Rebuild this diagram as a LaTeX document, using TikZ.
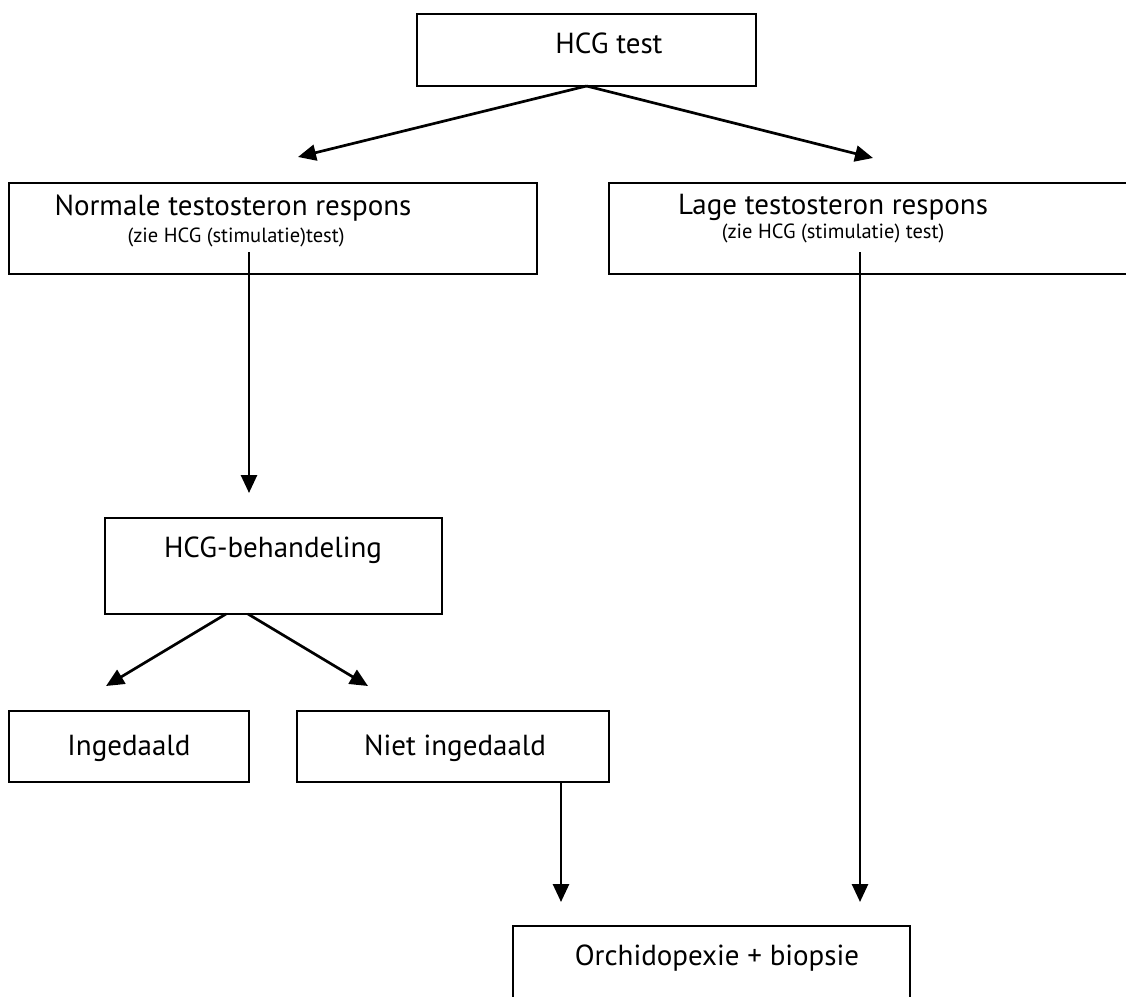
\documentclass[tikz,border=0pt]{standalone}
\usepackage{fontspec}
\setmainfont{PT Sans}
\usetikzlibrary{arrows.meta}
\begin{document}
\begin{tikzpicture}[x=1pt,y=-1pt,
  boxnode/.style={draw, line width=2pt, inner sep=0pt, outer sep=0pt, anchor=north west},
  txt/.style={inner sep=0pt, anchor=base, font=\fontsize{29}{33}\selectfont},
  subtxt/.style={inner sep=0pt, anchor=base, font=\fontsize{20.5}{24}\selectfont},
  arr/.style={line width=2.7pt, -{Triangle[length=18pt,width=16pt]}}]
\useasboundingbox (0,0) rectangle (1126,996);
\clip (0,0) rectangle (1126,996);
% boxes
\node[boxnode, minimum width=339pt, minimum height=72pt] (hcg) at (417,14) {};
\node[boxnode, minimum width=528pt, minimum height=91pt] (norm) at (9,183) {};
\node[boxnode, minimum width=530pt, minimum height=91pt] (lage) at (609,183) {};
\node[boxnode, minimum width=337pt, minimum height=96pt] (beh) at (105,518) {};
\node[boxnode, minimum width=240pt, minimum height=71pt] (ing) at (9,711) {};
\node[boxnode, minimum width=312pt, minimum height=71pt] (niet) at (297,711) {};
\node[boxnode, minimum width=397pt, minimum height=100pt] (orch) at (513,926) {};
% texts
\node[txt] (thcg) at (609,53) {HCG test};
\node[txt] (tnorm) at (233,215) {Normale testosteron respons};
\node[subtxt] (snorm) at (236,242) {(zie HCG (stimulatie)test)};
\node[txt] (tlage) at (833,214) {Lage testosteron respons};
\node[subtxt] (slage) at (833,238) {(zie HCG (stimulatie) test)};
\node[txt] (tbeh) at (273,557) {HCG-behandeling};
\node[txt] (ting) at (129,755) {Ingedaald};
\node[txt] (tniet) at (455,755) {Niet ingedaald};
\node[txt] (torch) at (717,965) {Orchidopexie + biopsie};
% connector end points
\coordinate (tipL) at (298,157);
\coordinate (tipR) at (873,158);
\coordinate (nstart) at (249,252);
\coordinate (btip) at (249,493);
\coordinate (lstart) at (860,252);
\coordinate (otipR) at (860,902);
\coordinate (b1) at (226,614);
\coordinate (b2) at (248,614);
\coordinate (itip) at (106,686);
\coordinate (ntip) at (368,686);
\coordinate (nout) at (561,782);
\coordinate (otipL) at (561,902);
% connectors
\draw[arr] (hcg.south) -- (tipL);
\draw[arr] (hcg.south) -- (tipR);
\draw[arr] (nstart) -- (btip);
\draw[arr] (lstart) -- (otipR);
\draw[arr] (b1) -- (itip);
\draw[arr] (b2) -- (ntip);
\draw[arr] (nout) -- (otipL);
\end{tikzpicture}
\end{document}
